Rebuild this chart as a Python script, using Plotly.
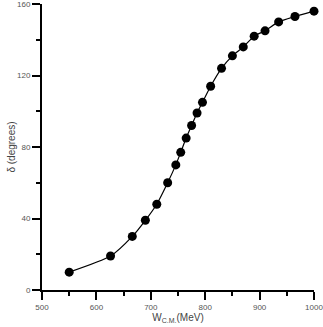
"""Phase shift vs centre-of-mass energy"""

import plotly.graph_objects as go

# Energies (MeV) and phase shifts (degrees)
w_cm = [550, 626, 666, 690, 711, 731, 746, 755, 765, 775, 785, 795,
        810, 830, 850, 870, 890, 910, 935, 965, 1000]
delta = [10, 19, 30, 39, 48, 60, 70, 77, 85, 92, 99, 105,
         114, 124, 131, 136, 142, 145, 150, 153, 156]

x_ticks = [500, 600, 700, 800, 900, 1000]
y_ticks = [0, 40, 80, 120, 160]

fig = go.Figure()

fig.add_trace(
    go.Scatter(
        x=w_cm,
        y=delta,
        mode="lines+markers",
        line=dict(color="black", width=1.2, shape="spline", smoothing=0.6),
        marker=dict(size=9, color="black"),
        showlegend=False,
        cliponaxis=False,
    )
)

font_family = "Arial, Liberation Sans, sans-serif"

axis_style = dict(
    showline=True,
    linecolor="black",
    linewidth=2,
    ticks="outside",
    ticklen=8,
    tickwidth=1.5,
    tickcolor="black",
    showgrid=False,
    zeroline=False,
    ticklabeloverflow="allow",
    tickfont=dict(family=font_family, size=8, color="#555555"),
)

fig.update_xaxes(
    range=[500, 1000],
    tickvals=x_ticks,
    minor=dict(ticks="outside", ticklen=4, tickwidth=1.5, tickcolor="black", dtick=50),
    title=dict(
        text="W<sub>C.M.</sub>(MeV)",
        font=dict(family=font_family, size=10, color="#444444"),
        standoff=2,
    ),
    **axis_style,
)
fig.update_yaxes(
    range=[0, 160],
    tickvals=y_ticks,
    minor=dict(ticks="outside", ticklen=4, tickwidth=1.5, tickcolor="black", dtick=20),
    title=dict(
        text="δ (degrees)",
        font=dict(family=font_family, size=10, color="#444444"),
        standoff=0,
    ),
    **axis_style,
)

fig.update_layout(
    width=323,
    height=327,
    margin=dict(l=42, r=9, t=4, b=37, autoexpand=False),
    plot_bgcolor="white",
    paper_bgcolor="white",
)

# drop the browser's default body margin so the figure sits at the page corner
fig.write_html(
    "out.html",
    config={"displayModeBar": False},
    post_script="document.body.style.margin='0';document.body.style.overflow='hidden';",
)
